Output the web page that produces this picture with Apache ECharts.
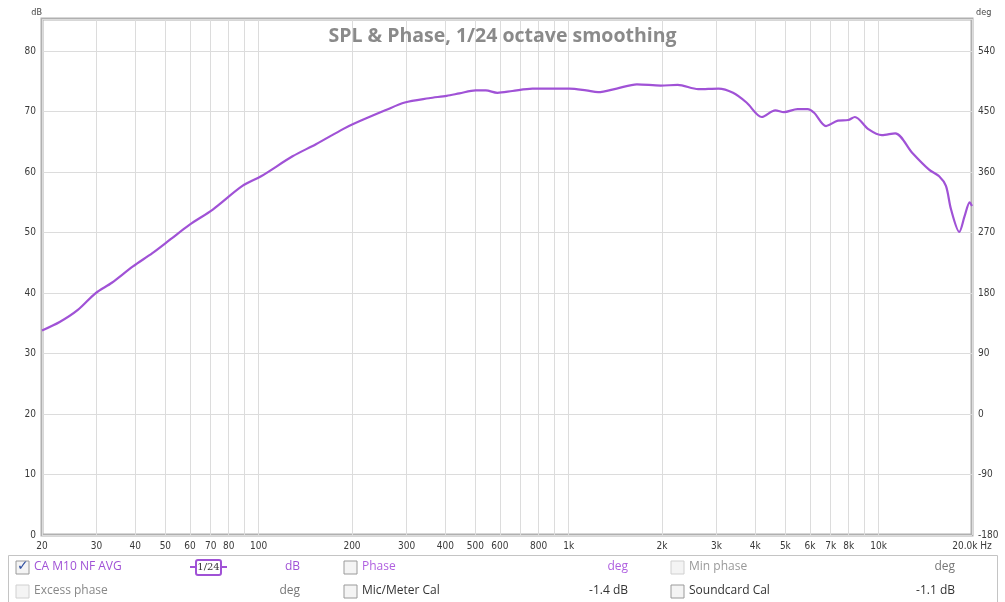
<!DOCTYPE html>
<html>
<head>
<meta charset="utf-8">
<script src="https://cdn.jsdelivr.net/npm/echarts@6/dist/echarts.min.js"></script>
<style>
  html, body { margin: 0; padding: 0; background: #fff; }
  #main { width: 1005px; height: 602px; }
</style>
</head>
<body>
<div id="main"></div>
<script>
// frequency (Hz) and SPL (dB)
var freqs = [20, 22.8, 26.1, 29.8, 33.6, 39.3, 45.4, 52, 59.9, 71.1, 88.6, 101.8, 128.6, 153, 187, 201,
  256, 296, 354, 404, 444, 501, 540, 589, 658, 764, 888, 1005, 1139, 1244, 1429, 1660, 1982, 2248,
  2617, 3043, 3390, 3746, 4196, 4640, 4950, 5470, 5895, 6190, 6763, 7390, 7970, 8380, 9260, 10240,
  11310, 12820, 14540, 15670, 16480, 17120, 18200, 18930, 19660, 20000];
var spl = [33.8, 35.2, 37.2, 40.0, 41.7, 44.4, 46.6, 48.9, 51.3, 53.8, 57.7, 59.3, 62.6, 64.6, 67.1, 67.9,
  70.2, 71.5, 72.2, 72.6, 73.0, 73.5, 73.5, 73.1, 73.4, 73.8, 73.8, 73.8, 73.5, 73.2, 73.8, 74.5, 74.3, 74.4,
  73.7, 73.8, 73.1, 71.5, 69.1, 70.2, 69.9, 70.4, 70.4, 69.8, 67.6, 68.5, 68.6, 69.1, 67.1, 66.1,
  66.4, 63.2, 60.4, 59.3, 57.7, 53.8, 50.1, 52.7, 55.0, 54.4];

// grid lines (every 1..9 x decade) and the labelled subset
var gridFreqs = [20, 30, 40, 50, 60, 70, 80, 90, 100, 200, 300, 400, 500, 600, 700, 800, 900,
  1000, 2000, 3000, 4000, 5000, 6000, 7000, 8000, 9000, 10000, 20000];
var labelFreqs = [20, 30, 40, 50, 60, 70, 80, 100, 200, 300, 400, 500, 600, 800,
  1000, 2000, 3000, 4000, 5000, 6000, 7000, 8000, 10000, 20000];

var dbMin = 0, dbMax = 85.3;
var degMin = -180, degMax = -180 + 85.3 * 9;

var purple = '#a052d6';
var chart = echarts.init(document.getElementById('main'));

function fmtHz(v) {
  if (Math.abs(v - 20000) < 1) return '20.0k Hz';
  if (v >= 1000) return Math.round(v / 1000) + 'k';
  return String(Math.round(v));
}

function box(x, y, checked, light) {
  var els = [{
    type: 'rect', shape: { x: x, y: y, width: 13, height: 13 },
    style: { fill: '#f4f4f4', stroke: light ? '#d0d0d0' : '#9a9a9a', lineWidth: 1 }
  }];
  if (checked) {
    els.push({ type: 'text', x: x + 1, y: y - 2,
      style: { text: '\u2713', fill: '#3050a0', font: 'bold 14px "DejaVu Sans"' } });
  }
  return els;
}

function txt(x, y, s, color, align) {
  return { type: 'text', x: x, y: y,
    style: { text: s, fill: color, font: '12px "Open Sans"', textAlign: align || 'left', textVerticalAlign: 'middle' } };
}

var panel = [
  { type: 'rect', shape: { x: 8.5, y: 555.5, width: 989, height: 50 },
    style: { fill: '#fff', stroke: '#c4c4c4', lineWidth: 1 } }
].concat(
  box(16, 561, true), [txt(34, 567, 'CA M10 NF AVG', purple)],
  [{ type: 'line', shape: { x1: 190, y1: 567, x2: 227, y2: 567 }, style: { stroke: purple, lineWidth: 2 } },
   { type: 'rect', shape: { x: 196, y: 560, width: 25, height: 15, r: 2 }, style: { fill: '#fff', stroke: purple, lineWidth: 2 } },
   { type: 'text', x: 208.5, y: 567.5, style: { text: '1/24', fill: '#333', font: '10px "DejaVu Serif"', textAlign: 'center', textVerticalAlign: 'middle' } }],
  [txt(300, 567, 'dB', purple, 'right')],
  box(344, 561, false), [txt(362, 567, 'Phase', '#b060e0')],
  [txt(628, 567, 'deg', '#b060e0', 'right')],
  box(671, 561, false, true), [txt(689, 567, 'Min phase', '#999')],
  [txt(955, 567, 'deg', '#777', 'right')],
  box(16, 585, false, true), [txt(34, 591, 'Excess phase', '#888')],
  [txt(300, 591, 'deg', '#777', 'right')],
  box(344, 585, false), [txt(362, 591, 'Mic/Meter Cal', '#333')],
  [txt(628, 591, '-1.4 dB', '#333', 'right')],
  box(671, 585, false), [txt(689, 591, 'Soundcard Cal', '#333')],
  [txt(955, 591, '-1.1 dB', '#333', 'right')]
);

var option = {
  backgroundColor: '#ffffff',
  animation: false,
  title: {
    text: 'SPL & Phase, 1/24 octave smoothing',
    left: 'center',
    top: 21,
    textStyle: { color: '#8a8a8a', fontSize: 19.5, fontWeight: 'bold', fontFamily: 'Open Sans' }
  },
  grid: {
    left: 42, right: 33, top: 19, bottom: 67,
    show: true, borderColor: '#b0b0b0', borderWidth: 3
  },
  xAxis: {
    type: 'log',
    min: 20, max: 20000,
    axisLine: { show: false },
    axisTick: { show: false, customValues: gridFreqs },
    axisLabel: {
      customValues: labelFreqs,
      formatter: fmtHz,
      color: '#3a3a3a', fontSize: 10, fontFamily: 'DejaVu Sans Condensed', margin: 6
    },
    splitLine: { show: true, lineStyle: { color: '#dcdcdc', width: 1 } }
  },
  yAxis: [{
    type: 'value',
    min: dbMin, max: dbMax, interval: 10,
    name: 'dB', nameLocation: 'end', nameGap: 2,
    nameTextStyle: { color: '#444', fontSize: 9, fontFamily: 'DejaVu Sans Condensed', align: 'right', padding: [0, 0, 0, 0] },
    axisLine: { show: false },
    axisTick: { show: false },
    axisLabel: {
      color: '#3a3a3a', fontSize: 10, fontFamily: 'DejaVu Sans Condensed', margin: 6,
      formatter: function (v) { return v % 10 === 0 ? String(v) : ''; }
    },
    splitLine: { show: true, lineStyle: { color: '#dcdcdc', width: 1 } }
  }, {
    type: 'value',
    position: 'right',
    min: degMin, max: degMax, interval: 90,
    name: 'deg', nameLocation: 'end', nameGap: 2,
    nameTextStyle: { color: '#444', fontSize: 9, fontFamily: 'DejaVu Sans Condensed', align: 'left', padding: [0, 0, 0, 4] },
    axisLine: { show: false },
    axisTick: { show: false },
    axisLabel: {
      color: '#3a3a3a', fontSize: 10, fontFamily: 'DejaVu Sans Condensed', margin: 6,
      formatter: function (v) { return v % 90 === 0 ? String(v) : ''; }
    },
    splitLine: { show: false }
  }],
  series: [{
    name: 'CA M10 NF AVG',
    type: 'line',
    yAxisIndex: 0,
    data: freqs.map(function (f, i) { return [f, spl[i]]; }),
    showSymbol: false,
    smooth: 0.3,
    lineStyle: { color: purple, width: 2.2 },
    itemStyle: { color: purple }
  }],
  graphic: panel
};
chart.setOption(option);
</script>
</body>
</html>
